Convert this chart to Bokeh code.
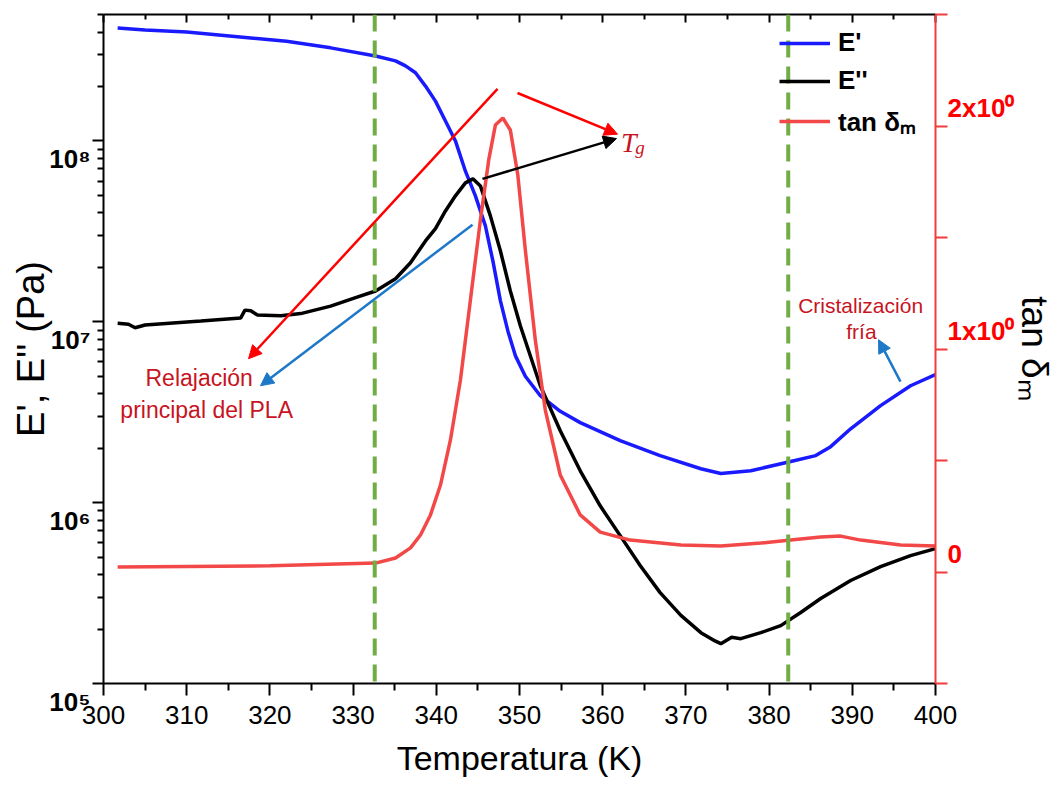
import math
from bokeh.plotting import figure
from bokeh.models import (Range1d, LinearAxis, LinearScale, FixedTicker, Span, Arrow, NormalHead,
                          Label, Legend, LegendItem, CustomJSTickFormatter)
from bokeh.embed import file_html
from bokeh.resources import INLINE

# ---------------- data ----------------
storage_T = [301.7, 305.0, 310.0, 317.7, 322.0, 327.3, 332.7, 335.1, 336.3, 337.5, 338.7,
             339.9, 341.1, 342.3, 343.5, 344.7, 345.9, 346.8, 347.7, 348.6, 349.5, 350.7,
             352.5, 354.9, 357.3, 362.1, 366.9, 371.8, 374.2, 377.8, 382.6, 385.6, 387.4,
             389.8, 393.4, 397.0, 400.0]
storage_E = [4.21e8, 4.10e8, 4.00e8, 3.71e8, 3.56e8, 3.27e8, 2.95e8, 2.77e8, 2.60e8, 2.38e8,
             2.01e8, 1.66e8, 1.29e8, 1.00e8, 6.8e7, 4.97e7, 3.39e7, 2.17e7, 1.31e7, 8.9e6,
             6.5e6, 5.0e6, 3.9e6, 3.2e6, 2.77e6, 2.2e6, 1.82e6, 1.54e6, 1.45e6, 1.50e6,
             1.69e6, 1.82e6, 2.04e6, 2.56e6, 3.44e6, 4.43e6, 5.1e6]

loss_T = [301.7, 303.0, 303.8, 305.0, 311.7, 316.5, 317.0, 317.7, 318.5, 321.3, 323.7, 327.3,
          330.3, 332.7, 335.1, 336.9, 338.7, 339.9, 341.1, 342.3, 343.5, 344.4, 345.3, 346.5,
          347.7, 348.9, 350.1, 352.5, 354.9, 357.3, 359.7, 362.1, 364.5, 366.9, 369.4, 371.8,
          373.5, 374.2, 375.5, 376.6, 379.0, 381.4, 383.8, 386.2, 389.8, 393.4, 397.0, 400.0]
loss_E = [9.8e6, 9.7e6, 9.27e6, 9.6e6, 1.01e7, 1.05e7, 1.16e7, 1.15e7, 1.09e7, 1.08e7, 1.11e7,
          1.22e7, 1.36e7, 1.48e7, 1.73e7, 2.12e7, 2.80e7, 3.27e7, 4.10e7, 4.97e7, 5.86e7,
          6.17e7, 5.64e7, 3.85e7, 2.47e7, 1.48e7, 9.5e6, 4.43e6, 2.5e6, 1.5e6, 9.6e5, 6.57e5,
          4.49e5, 3.18e5, 2.38e5, 1.91e5, 1.72e5, 1.66e5, 1.80e5, 1.77e5, 1.91e5, 2.09e5,
          2.47e5, 2.95e5, 3.71e5, 4.43e5, 5.09e5, 5.57e5]

tan_T = [301.7, 320.0, 332.7, 335.1, 336.9, 338.1, 339.3, 340.5, 341.7, 342.9, 344.1, 345.3,
         346.3, 347.1, 348.0, 348.9, 349.8, 350.7, 351.9, 353.1, 354.9, 357.3, 359.7, 363.3,
         369.4, 374.2, 379.0, 382.6, 386.2, 388.6, 391.0, 395.8, 400.0]
tan_d = [0.022, 0.028, 0.040, 0.063, 0.108, 0.166, 0.256, 0.390, 0.592, 0.861, 1.220, 1.578,
         1.848, 2.004, 2.036, 1.982, 1.780, 1.444, 1.040, 0.726, 0.435, 0.256, 0.179, 0.143,
         0.121, 0.117, 0.130, 0.143, 0.157, 0.161, 0.143, 0.121, 0.117]

x_ticks = [300, 310, 320, 330, 340, 350, 360, 370, 380, 390, 400]
x_minor_ticks = [305, 315, 325, 335, 345, 355, 365, 375, 385, 395]
left_ticks = [1e5, 1e6, 1e7, 1e8]
left_tick_labels = ["10⁵", "10⁶", "10⁷", "10⁸"]
left_minor_ticks = [m * 10 ** k for k in range(5, 9) for m in range(2, 10) if m * 10 ** k <= 5e8]
right_ticks = [0, 1, 2]
right_tick_labels = ["0", "1x10⁰", "2x10⁰"]
right_minor_ticks = [-0.5, 0.5, 1.5, 2.5]
transition_T = [332.6, 382.3]

# annotation arrows: (T_start, y_start, T_end, y_end, colour)
arrows = [
    (347.36, 1.94e8, 317.43, 6.25e6, "#FF0000"),
    (344.35, 3.44e7, 318.87, 4.43e6, "#1E78C8"),
    (349.76, 1.84e8, 361.78, 1.09e8, "#FF0000"),
    (345.55, 6.17e7, 361.66, 1.03e8, "#000000"),
    (395.79, 4.67e6, 393.15, 7.96e6, "#1E78C8"),
]

FONT = "Liberation Sans"
empty = CustomJSTickFormatter(code="return ''")

# labels sit half a line below (left) / above (right) their ticks, as in the reference
left_fmt = CustomJSTickFormatter(args=dict(tvals=left_ticks, tlabels=left_tick_labels), code="""
    for (let i = 0; i < tvals.length; i++) {
        if (Math.abs(Math.log10(tick) - Math.log10(tvals[i])) < 1e-6) return "\\u00a0\\n" + tlabels[i];
    }
    return "";
""")
right_fmt = CustomJSTickFormatter(args=dict(tvals=right_ticks, tlabels=right_tick_labels), code="""
    for (let i = 0; i < tvals.length; i++) {
        if (Math.abs(tick - tvals[i]) < 1e-6) return tlabels[i] + "\\n\\u00a0";
    }
    return "";
""")

p = figure(frame_width=832, frame_height=669, y_axis_type="log",
           x_range=Range1d(300, 400), y_range=Range1d(1e5, 5e8),
           output_backend="svg", toolbar_location=None,
           min_border_left=103, min_border_top=14, min_border_right=10, min_border_bottom=10)
p.extra_y_ranges = {"tan": Range1d(-0.5, 2.5)}
p.extra_y_scales = {"tan": LinearScale()}
p.xgrid.visible = False
p.ygrid.visible = False
p.outline_line_color = None
p.background_fill_color = "white"

# bottom axis
xa = p.xaxis[0]
xa.ticker = FixedTicker(ticks=x_ticks, minor_ticks=x_minor_ticks)
xa.axis_label = "Temperatura (K)"
xa.axis_label_text_font = FONT
xa.axis_label_text_font_size = "34px"
xa.axis_label_text_font_style = "normal"
xa.axis_label_text_color = "black"
xa.axis_label_standoff = 12
xa.major_label_text_font = FONT
xa.major_label_text_font_size = "26px"
xa.major_label_text_color = "black"
xa.major_label_standoff = 10
xa.axis_line_width = 2
xa.major_tick_line_width = 2
xa.minor_tick_line_width = 2
xa.major_tick_out = 12
xa.major_tick_in = 0
xa.minor_tick_out = 7
xa.minor_tick_in = 0

# left axis
ya = p.yaxis[0]
ya.ticker = FixedTicker(ticks=left_ticks, minor_ticks=left_minor_ticks)
ya.formatter = left_fmt
ya.major_label_standoff = 2
ya.major_label_text_font = FONT
ya.major_label_text_font_style = "bold"
ya.major_label_text_font_size = "26px"
ya.major_label_text_color = "black"
ya.axis_label = "E', E'' (Pa)"
ya.axis_label_text_font = FONT
ya.axis_label_text_font_size = "38px"
ya.axis_label_text_font_style = "normal"
ya.axis_label_text_color = "black"
ya.axis_label_standoff = -6
ya.axis_line_width = 2
ya.major_tick_line_width = 2
ya.minor_tick_line_width = 2
ya.major_tick_out = 11
ya.major_tick_in = 0
ya.minor_tick_out = 6
ya.minor_tick_in = 0

# top axis (ticks only)
top = LinearAxis(ticker=FixedTicker(ticks=x_ticks, minor_ticks=x_minor_ticks), formatter=empty,
                 major_tick_in=8, major_tick_out=0, minor_tick_in=5, minor_tick_out=0,
                 major_label_standoff=0, axis_line_width=2, major_tick_line_width=2,
                 minor_tick_line_width=2)
p.add_layout(top, "above")

# right axis (tan delta)
RED_AX = "#F23C3C"
ra = LinearAxis(y_range_name="tan",
                ticker=FixedTicker(ticks=right_ticks, minor_ticks=right_minor_ticks),
                formatter=right_fmt, major_label_standoff=0,
                major_label_text_font=FONT, major_label_text_font_style="bold",
                major_label_text_font_size="26px", major_label_text_color="#FF0000",
                axis_label="tan δₘ", axis_label_text_font=FONT, axis_label_text_font_size="37px",
                axis_label_text_font_style="normal", axis_label_text_color="black",
                axis_label_standoff=-3,
                axis_line_color=RED_AX, axis_line_width=2,
                major_tick_line_color=RED_AX, minor_tick_line_color=RED_AX,
                major_tick_line_width=2, minor_tick_line_width=2,
                major_tick_out=12, major_tick_in=0, minor_tick_out=12, minor_tick_in=0)
p.add_layout(ra, "right")

# transition lines
for t in transition_T:
    p.add_layout(Span(location=t, dimension="height", line_color="#70AD47", line_width=4,
                      line_dash="17 9"))

# curves
r_e1 = p.line(storage_T, storage_E, line_color="#1a1aff", line_width=3.5)
r_e2 = p.line(loss_T, loss_E, line_color="black", line_width=3.5)
r_tan = p.line(tan_T, tan_d, y_range_name="tan", line_color="#F24848", line_width=3.5)

# arrows
for xs, ys, xe, ye, c in arrows:
    p.add_layout(Arrow(end=NormalHead(size=13, fill_color=c, line_color=c, line_width=1),
                       x_start=xs, y_start=ys, x_end=xe, y_end=ye,
                       line_color=c, line_width=2.5))

TXT = "#C8141E"
p.add_layout(Label(x=311.5, y=10 ** 6.6906, text="Relajación", text_align="center",
                   text_baseline="middle", text_font=FONT, text_font_size="23px", text_color=TXT))
p.add_layout(Label(x=312.4, y=10 ** 6.5138, text="principal del PLA", text_align="center",
                   text_baseline="middle", text_font=FONT, text_font_size="23px", text_color=TXT))
p.add_layout(Label(x=391.0, y=10 ** 7.088, text="Cristalización", text_align="center",
                   text_baseline="middle", text_font=FONT, text_font_size="21px", text_color=TXT))
p.add_layout(Label(x=391.1, y=10 ** 6.945, text="fría", text_align="center",
                   text_baseline="middle", text_font=FONT, text_font_size="21px", text_color=TXT))
p.add_layout(Label(x=362.2, y=10 ** 7.989, text="T", text_align="left",
                   text_baseline="alphabetic", text_font="Liberation Serif",
                   text_font_style="italic", text_font_size="28px", text_color=TXT))
p.add_layout(Label(x=363.9, y=10 ** 7.961, text="g", text_align="left",
                   text_baseline="alphabetic", text_font="Liberation Serif",
                   text_font_style="italic", text_font_size="19px", text_color=TXT))

legend = Legend(items=[LegendItem(label="E'", renderers=[r_e1]),
                       LegendItem(label="E''", renderers=[r_e2]),
                       LegendItem(label="tan δₘ", renderers=[r_tan])],
                location=(676, 544), orientation="vertical",
                label_text_font=FONT, label_text_font_style="bold", label_text_font_size="26px",
                label_text_color="black",
                glyph_width=51, glyph_height=20, label_height=26, spacing=7, padding=0,
                margin=0, label_standoff=8, border_line_alpha=0, background_fill_alpha=0)
p.add_layout(legend)

open("out.html", "w").write(file_html(p, INLINE))
